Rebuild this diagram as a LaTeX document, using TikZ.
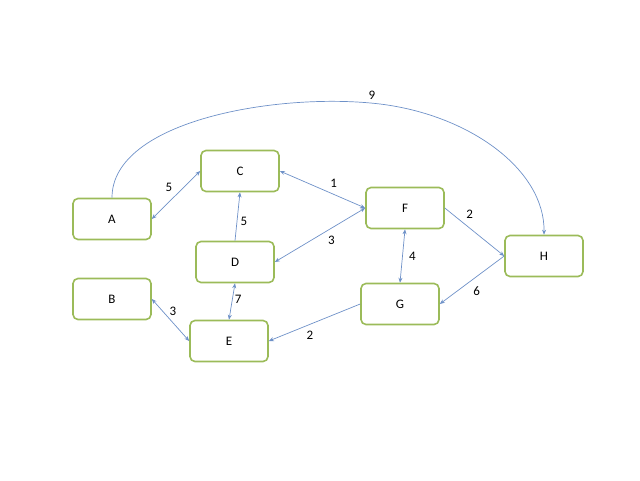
\documentclass[tikz,border=0pt]{standalone}
\usepackage{fontspec}
\usetikzlibrary{arrows.meta}
\setmainfont{Carlito}
\definecolor{boxgreen}{RGB}{155,187,89}
\definecolor{linkblue}{RGB}{110,145,200}
\begin{document}
\begin{tikzpicture}[x=1pt,y=-1pt,
    city/.style={draw=boxgreen, line width=1.6pt, rounded corners=5pt, minimum width=78pt, minimum height=41pt, font=\fontsize{13}{15}\selectfont},
    link/.style={draw=linkblue, line width=0.7pt, -{Stealth[length=5pt,width=4pt]}},
    both/.style={link, {Stealth[length=5pt,width=4pt]}-{Stealth[length=5pt,width=4pt]}},
    wt/.style={font=\fontsize{13}{15}\selectfont}]
\useasboundingbox (0,0) rectangle (640,480);

\node[city] (A) at (112,219) {A};
\node[city] (B) at (112,299) {B};
\node[city] (C) at (240,171) {C};
\node[city] (D) at (235,262) {D};
\node[city] (E) at (229,341) {E};
\node[city] (F) at (405,208) {F};
\node[city] (G) at (400,304) {G};
\node[city] (H) at (544,256) {H};

\draw[both] (A.east) -- (C.west) node[wt, pos=0.5, above left] {5};
\draw[both] (C.east) -- (F.west) node[wt, pos=0.55, above right] {1};
\draw[both] (D.east) -- (F.west) node[wt, pos=0.55, below right] {3};
\draw[link] (D.north) -- (C.south) node[wt, pos=0.4, right] {5};
\draw[both] (D.south) -- (E.north) node[wt, pos=0.45, right=-1pt] {7};
\draw[both] (B.east) -- (E.west) node[wt, pos=0.3, right=3pt] {3};
\draw[link] (G.west) -- (E.east) node[wt, pos=0.55, below=3pt] {2};
\draw[both] (F.south) -- (G.north) node[wt, pos=0.5, right=3pt] {4};
\draw[link] (F.east) -- (H.west) node[wt, pos=0.3, above right] {2};
\draw[link] (H.west) -- (G.east) node[wt, pos=0.55, below right=1pt] {6};
\draw[link] (A.north) .. controls (112,120) and (280,92) .. (380,104)
    node[wt, above left=1pt] {9}
    .. controls (470,115) and (545,170) .. (H.north);
\end{tikzpicture}
\end{document}
